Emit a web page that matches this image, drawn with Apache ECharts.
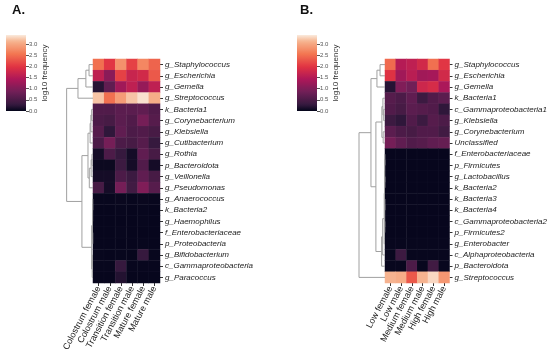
<!DOCTYPE html>
<html><head><meta charset="utf-8">
<script src="https://cdn.jsdelivr.net/npm/echarts@6/dist/echarts.min.js"></script>
<style>html,body{margin:0;padding:0;background:#fff}#c{width:550px;height:358px}</style>
</head><body><div id="c"></div>
<script>
// ---------- data ----------
const colsA = ['Colostrum female','Colostrum male','Transition female','Transition male','Mature female','Mature male'];
const rowsA = ['g_Staphylococcus','g_Escherichia','g_Gemella','g_Streptococcus','k_Bacteria1','g_Corynebacterium','g_Klebsiella','g_Cutibacterium','g_Rothia','p_Bacteroidota','g_Veillonella','g_Pseudomonas','g_Anaerococcus','k_Bacteria2','g_Haemophilus','f_Enterobacteriaceae','p_Proteobacteria','g_Bifidobacterium','c_Gammaproteobacteria','g_Paracoccus'];
const valsA = [
  [2.50,2.00,2.80,2.10,2.70,2.40],
  [1.60,1.10,2.10,1.70,1.80,2.30],
  [0.20,0.70,1.30,1.60,1.20,1.60],
  [3.20,2.50,2.90,3.20,3.35,3.05],
  [0.55,0.55,0.65,0.65,0.70,0.55],
  [0.50,0.45,0.65,0.55,0.90,0.60],
  [0.60,0.25,0.70,0.50,0.55,0.45],
  [0.50,0.90,0.50,0.45,0.60,0.30],
  [0.10,0.50,0.30,0.10,0.70,0.45],
  [0.05,0.05,0.35,0.10,0.55,0.10],
  [0.10,0.10,0.50,0.35,0.70,0.45],
  [0.45,0.10,0.90,0.40,1.00,0.60],
  [0.03,0.03,0.04,0.03,0.04,0.03],
  [0.02,0.02,0.03,0.02,0.03,0.02],
  [0.02,0.02,0.02,0.02,0.03,0.02],
  [0.02,0.02,0.03,0.02,0.02,0.02],
  [0.02,0.02,0.02,0.02,0.03,0.02],
  [0.03,0.02,0.03,0.02,0.30,0.03],
  [0.03,0.03,0.30,0.03,0.03,0.03],
  [0.02,0.02,0.18,0.02,0.02,0.02]
];
// dendrogram: node = [left, right, height], leaf = row index
const treeA = [[[[0,1,0.15],2,0.27],3,0.57],
  [[[[[4,5,0.05],6,0.08],7,0.11],[[[8,9,0.04],10,0.07],11,0.14],0.19],
   [[[[12,13,0.01],14,0.015],[15,16,0.01],0.02],[[17,18,0.02],19,0.03],0.05],0.42],1.0];

const colsB = ['Low female','Low male','Medium female','Medium male','High female','High male'];
const rowsB = ['g_Staphylococcus','g_Escherichia','g_Gemella','k_Bacteria1','c_Gammaproteobacteria1','g_Klebsiella','g_Corynebacterium','Unclassified','f_Enterobacteriaceae','p_Firmicutes','g_Lactobacillus','k_Bacteria2','k_Bacteria3','k_Bacteria4','c_Gammaproteobacteria2','p_Firmicutes2','g_Enterobacter','c_Alphaproteobacteria','p_Bacteroidota','g_Streptococcus'];
const valsB = [
  [2.45,1.50,1.60,1.80,2.50,2.00],
  [1.95,1.30,1.55,1.30,1.35,1.80],
  [0.20,1.00,0.85,1.75,1.85,1.40],
  [0.60,0.50,0.70,0.35,0.55,0.65],
  [0.55,0.45,0.65,0.60,0.55,0.25],
  [0.35,0.25,0.55,0.35,0.60,0.50],
  [0.65,0.50,0.45,0.55,0.55,0.40],
  [0.90,0.70,0.55,0.60,0.70,0.75],
  [0.02,0.02,0.02,0.02,0.02,0.02],
  [0.02,0.02,0.02,0.02,0.02,0.02],
  [0.02,0.02,0.02,0.02,0.02,0.02],
  [0.02,0.02,0.02,0.02,0.02,0.02],
  [0.02,0.02,0.02,0.02,0.02,0.02],
  [0.02,0.02,0.02,0.02,0.02,0.02],
  [0.02,0.02,0.02,0.02,0.02,0.02],
  [0.02,0.02,0.02,0.02,0.02,0.02],
  [0.03,0.03,0.03,0.03,0.03,0.03],
  [0.03,0.35,0.03,0.03,0.03,0.03],
  [0.03,0.03,0.50,0.03,0.40,0.03],
  [3.10,3.05,2.30,3.10,3.30,2.85]
];
const treeB = [[[[0,1,0.19],2,0.31],
  [[[3,[4,5,0.05],0.08],[6,7,0.07],0.12],
   [[[[[[8,9,0.005],[10,11,0.005],0.01],[[12,13,0.005],[14,15,0.008],0.012],0.02],16,0.03],17,0.09],18,0.13],0.35],0.54],19,1.0];

const cbMin = 0, cbMax = 3.4, cbStep = 0.5;
const cbName = 'log10 frequency';

// ---------- styling helpers ----------
const rocketStops = [[0,'#03051A'],[0.083,'#35193E'],[0.25,'#701F57'],[0.417,'#AD1759'],[0.583,'#E13342'],[0.75,'#F37651'],[0.917,'#F6B48F'],[1,'#FAEBDD']];
function hex2rgb(h){return [1,3,5].map(i=>parseInt(h.substr(i,2),16));}
function rocket(t){
  for(let i=1;i<rocketStops.length;i++){
    if(t<=rocketStops[i][0]){
      const [t0,c0]=rocketStops[i-1],[t1,c1]=rocketStops[i];
      const f=(t-t0)/(t1-t0),a=hex2rgb(c0),b=hex2rgb(c1);
      return 'rgb('+a.map((v,k)=>Math.round(v+(b[k]-v)*f)).join(',')+')';
    }
  }
  return rocketStops[rocketStops.length-1][1];
}
const N=41, palette=[];
for(let i=0;i<N;i++) palette.push(rocket(i/(N-1)));

function heatData(vals){
  const d=[]; vals.forEach((row,r)=>row.forEach((v,c)=>d.push([c,r,v]))); return d;
}
function dendroLines(tree){
  const out=[];
  function walk(n){
    if(typeof n==='number') return {y:n,h:0};
    const l=walk(n[0]), r=walk(n[1]), h=n[2];
    out.push({coords:[[l.h,l.y],[h,l.y],[h,r.y],[r.h,r.y]]});
    return {y:(l.y+r.y)/2,h:h};
  }
  walk(tree); return out;
}

const FONT='"Liberation Sans", Arial, sans-serif';
const TOP=59, H=224;
const heatGrids=[{left:93,top:TOP,width:67,height:H},{left:385,top:TOP,width:67,height:H}];
const dendGrids=[{left:64,top:TOP,width:29,height:H},{left:355,top:TOP,width:30,height:H}];
const cbGrids=[{left:6,top:35,width:20,height:76},{left:297,top:35,width:20,height:76}];

const xAxes=[], yAxes=[], series=[];
[[colsA,rowsA,valsA,treeA,1.1],[colsB,rowsB,valsB,treeB,1.154]].forEach(([cols,rows,vals,tree,dmax],k)=>{
  xAxes[k]={type:'category',gridIndex:k,data:cols,position:'bottom',
    axisLine:{show:false},axisTick:{show:true,length:3,alignWithLabel:true,lineStyle:{color:'#333'}},
    axisLabel:{rotate:62,fontSize:9,color:'#222',fontFamily:FONT,margin:4,interval:0},splitLine:{show:false}};
  yAxes[k]={type:'category',gridIndex:k,data:rows,inverse:true,position:'right',
    axisLine:{show:false},axisTick:{show:true,length:3,alignWithLabel:true,lineStyle:{color:'#333'}},
    axisLabel:{fontSize:8,fontStyle:'italic',color:'#222',fontFamily:FONT,margin:5,interval:0},splitLine:{show:false}};
  series.push({type:'heatmap',xAxisIndex:k,yAxisIndex:k,data:heatData(vals),
    itemStyle:{borderColor:'rgba(255,255,255,0.06)',borderWidth:0.5},emphasis:{disabled:true}});
  xAxes[k+2]={type:'value',gridIndex:k+2,min:0,max:dmax,inverse:true,show:false};
  yAxes[k+2]={type:'value',gridIndex:k+2,min:-0.5,max:rows.length-0.5,inverse:true,show:false};
  series.push({type:'lines',coordinateSystem:'cartesian2d',xAxisIndex:k+2,yAxisIndex:k+2,polyline:true,silent:true,
    data:dendroLines(tree),lineStyle:{color:'#a0a0a0',width:1,opacity:1}});
  xAxes[k+4]={type:'category',gridIndex:k+4,data:['cb'],show:false};
  yAxes[k+4]={type:'value',gridIndex:k+4,min:cbMin,max:cbMax,interval:cbStep,position:'right',
    name:cbName,nameLocation:'middle',nameRotate:90,nameGap:15,
    nameTextStyle:{fontSize:8,color:'#333',fontFamily:FONT},
    axisLine:{show:false},axisTick:{show:true,length:3,lineStyle:{color:'#555'}},splitLine:{show:false},
    axisLabel:{fontSize:6,color:'#555',fontFamily:FONT,margin:3,showMaxLabel:false,formatter:v=>v.toFixed(1)}};
  series.push({type:'bar',xAxisIndex:k+4,yAxisIndex:k+4,data:[cbMax],barWidth:'100%',silent:true,
    itemStyle:{color:{type:'linear',x:0,y:1,x2:0,y2:0,colorStops:palette.map((c,i)=>({offset:i/(N-1),color:c}))}}});
});

const chart=echarts.init(document.getElementById('c'),null,{renderer:'canvas'});
chart.setOption({
  animation:false,
  backgroundColor:'#fff',
  title:[{text:'A.',left:12,top:4,padding:0,textStyle:{fontSize:13,fontWeight:'bold',color:'#111',fontFamily:FONT}},
         {text:'B.',left:300,top:4,padding:0,textStyle:{fontSize:13,fontWeight:'bold',color:'#111',fontFamily:FONT}}],
  grid:[...heatGrids,...dendGrids,...cbGrids],
  xAxis:xAxes, yAxis:yAxes,
  visualMap:{show:false,type:'continuous',min:cbMin,max:cbMax,seriesIndex:[0,3],inRange:{color:palette}},
  series:series
});
</script></body></html>
